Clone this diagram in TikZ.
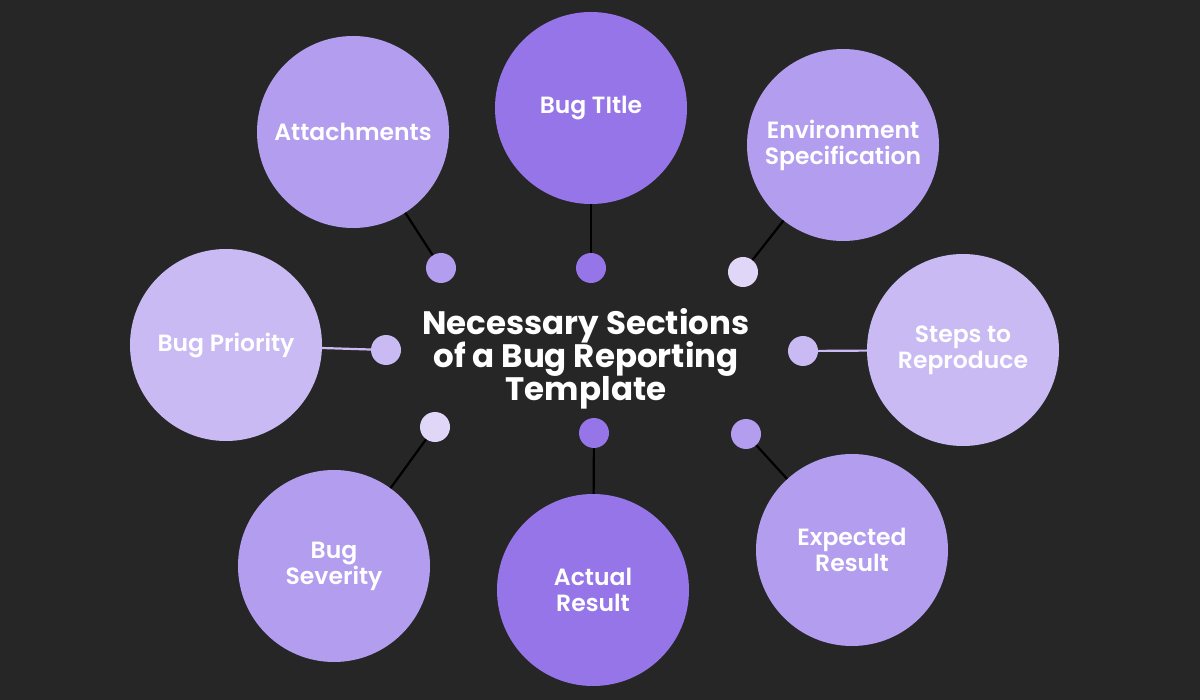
\documentclass[tikz,border=0pt]{standalone}
\usepackage{fontspec}
\setmainfont{Poppins}
\newfontfamily\lblfont[UprightFont={* SemiBold},BoldFont={* Bold}]{Poppins}
\usepackage{tikz}
\usetikzlibrary{positioning}
\definecolor{bgdark}{RGB}{38,38,38}
\definecolor{vdark}{RGB}{149,117,232}
\definecolor{vmid}{RGB}{178,157,238}
\definecolor{vlight}{RGB}{201,186,244}
\definecolor{vpale}{RGB}{224,215,248}
\newcommand\tightlines{\lineskiplimit=-50pt\relax}

\begin{document}
\begin{tikzpicture}[x=1pt,y=-1pt,
  topic/.style={circle,inner sep=0pt,minimum size=192pt,text=white,align=center,
    font=\lblfont\fontsize{23.5}{26}\selectfont\tightlines},
  dot/.style={circle,inner sep=0pt,minimum size=30pt},
  link/.style={line width=2.2pt,black}]
  % Background
  \fill[bgdark] (0,0) rectangle (1200,700);
  % Big circles
  \node[topic,fill=vdark] (title) at (591,108) {Bug TItle};
  \node[topic,fill=vmid] (attach) at (353,132) {Attachments};
  \node[topic,fill=vmid] (env) at (843,145) {Environment\\Specification};
  \node[topic,fill=vlight] (prio) at (226,345) {Bug Priority};
  \node[topic,fill=vlight] (steps) at (963,350) {Steps to\\Reproduce};
  \node[topic,fill=vmid] (sev) at (334,566) {Bug\\Severity};
  \node[topic,fill=vdark] (actual) at (593,590) {Actual\\Result};
  \node[topic,fill=vmid] (expect) at (852,550) {Expected\\Result};
  % Small dots
  \node[dot,fill=vdark] (dtitle) at (591,268) {};
  \node[dot,fill=vmid] (dattach) at (441,268) {};
  \node[dot,fill=vpale] (denv) at (743,272) {};
  \node[dot,fill=vlight] (dprio) at (386,350) {};
  \node[dot,fill=vlight] (dsteps) at (803,351) {};
  \node[dot,fill=vpale] (dsev) at (435,427) {};
  \node[dot,fill=vdark] (dactual) at (594,433) {};
  \node[dot,fill=vmid] (dexpect) at (746,434) {};
  % Connectors
  \draw[link] (dtitle) -- (title);
  \draw[link] (dattach) -- (attach);
  \draw[link] (denv) -- (env);
  \draw[link,vlight] (dprio) -- (prio);
  \draw[link,vlight] (dsteps) -- (steps);
  \draw[link] (dsev) -- (sev);
  \draw[link] (dactual) -- (actual);
  \draw[link] (dexpect) -- (expect);
  % Centre title
  \node[text=white,align=center,font=\lblfont\bfseries\fontsize{32.5}{33}\selectfont\tightlines] (head) at (586,359)
    {Necessary Sections\\of a Bug Reporting\\Template};
\end{tikzpicture}
\end{document}
